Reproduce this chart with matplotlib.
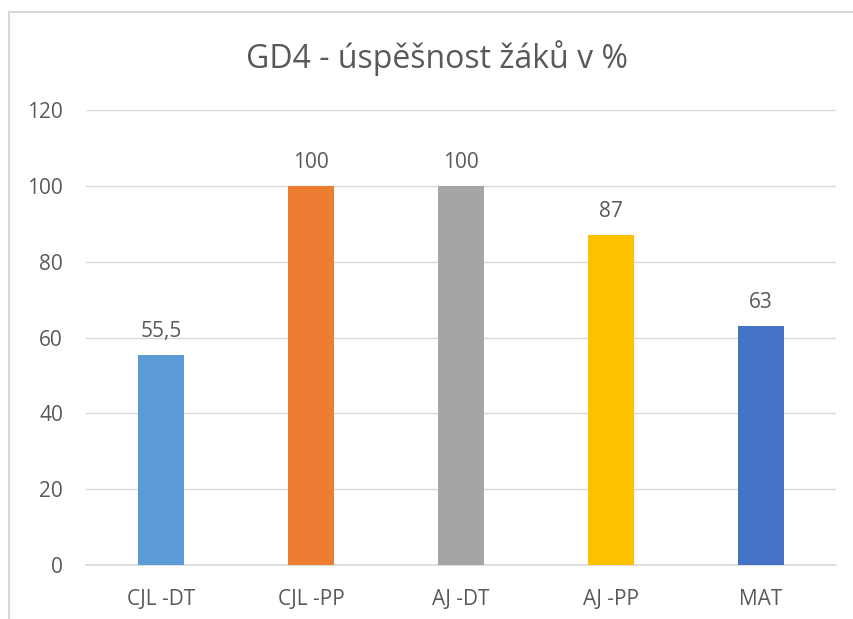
import matplotlib
matplotlib.use('Agg')
import matplotlib.pyplot as plt
from matplotlib.patches import Rectangle

plt.rcParams['font.family'] = ['Open Sans', 'DejaVu Sans']

categories = ['CJL -DT', 'CJL -PP', 'AJ -DT', 'AJ -PP', 'MAT']
values = [55.5, 100, 100, 87, 63]
value_labels = ['55,5', '100', '100', '87', '63']
colors = ['#5B9BD5', '#ED7D31', '#A5A5A5', '#FFC000', '#4472C4']
title = 'GD4 - úspěšnost žáků v %'

text_color = '#595959'
grid_color = '#D9D9D9'

fig = plt.figure(figsize=(8.54, 6.19), dpi=100)
ax = fig.add_axes([86 / 854, 1 - 565 / 619, 750 / 854, 455 / 619])

x = range(len(categories))
ax.bar(x, values, width=0.31, color=colors, zorder=3)
for xi, v, lab in zip(x, values, value_labels):
    ax.annotate(lab, (xi, v), xytext=(0, 13), textcoords='offset points',
                ha='center', va='baseline', fontsize=15, color=text_color)

ax.set_xlim(-0.5, len(categories) - 0.5)
ax.set_ylim(0, 120)
ax.set_yticks(range(0, 121, 20))
ax.set_xticks(list(x))
ax.set_xticklabels(categories)
ax.tick_params(axis='both', length=0, labelsize=15, colors=text_color)
ax.tick_params(axis='y', pad=16.5)
ax.tick_params(axis='x', pad=17.5)
ax.yaxis.grid(True, color=grid_color, linewidth=1, zorder=0)
for s in ['top', 'right', 'left']:
    ax.spines[s].set_visible(False)
ax.spines['bottom'].set_color(grid_color)
ax.spines['bottom'].set_linewidth(1.2)

fig.text(437 / 854, 1 - 68 / 619, title, ha='center', va='baseline',
         fontsize=23, color=text_color)

# outer chart frame
fig.patches.append(Rectangle((9 / 854, -0.1), 1.2, 1.1 - 12 / 619,
                             transform=fig.transFigure, fill=False,
                             edgecolor=grid_color, linewidth=1.5))

fig.savefig('out.png', dpi=100)
